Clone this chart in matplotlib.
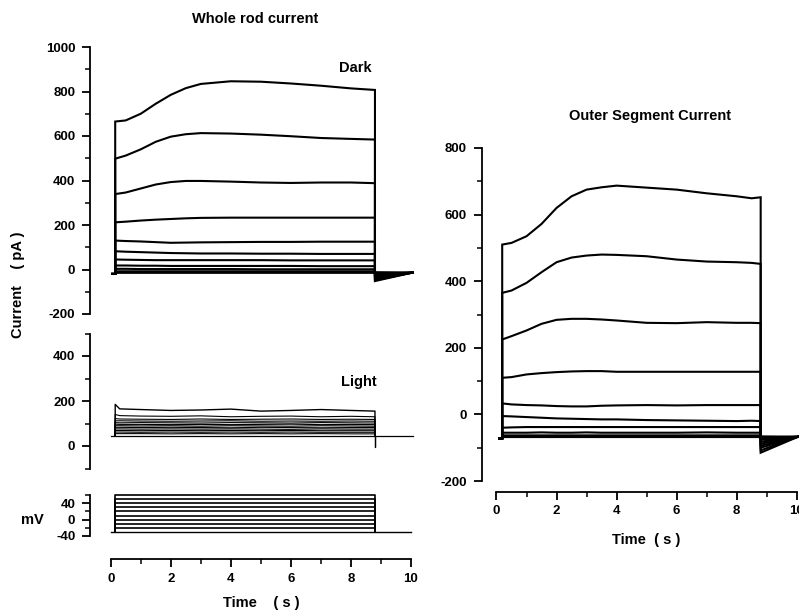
import matplotlib
matplotlib.use("Agg")
import matplotlib.pyplot as plt
from matplotlib.ticker import MultipleLocator

plt.rcParams['font.family'] = ['Liberation Sans', 'DejaVu Sans']
plt.rcParams['font.weight'] = 'bold'
plt.rcParams['axes.unicode_minus'] = False

# stimulus timing (s)
wr_on, wr_off = 0.15, 8.8
os_on, os_off = 0.19, 8.8

# Whole rod current, "Dark" family (pA)
t_wr = [0.15, 0.5, 1, 1.5, 2, 2.5, 3, 4, 5, 6, 7, 8, 8.8]
dark = [
    [665, 670, 700, 745, 785, 815, 834, 846, 844, 836, 826, 814, 807],
    [498, 512, 540, 574, 597, 608, 613, 611, 606, 599, 591, 587, 584],
    [339, 346, 364, 382, 393, 398, 398, 395, 391, 389, 391, 391, 388],
    [212, 215, 220, 224, 227, 230, 232, 233, 233, 233, 233, 233, 233],
    [130, 128, 126, 123, 120, 121, 122, 123, 124, 124, 125, 125, 125],
    [82, 80, 78, 76, 74, 73, 72, 72, 71, 71, 70, 70, 70],
    [45, 44, 43, 42, 42, 42, 42, 42, 42, 41, 41, 41, 41],
    [18, 18, 17, 17, 16, 16, 16, 16, 16, 16, 15, 15, 15],
    [3, 3, 2, 2, 2, 2, 2, 2, 1, 1, 1, 1, 1],
    [-8, -8, -8, -8, -8, -8, -8, -8, -8, -8, -8, -8, -8],
    [-15, -15, -15, -15, -15, -15, -15, -15, -15, -15, -15, -15, -15],
]
dark_hold = -20
dark_tail_start = [-52, -48, -44, -40, -36, -32, -28, -24, -20, -16, -12]
dark_tail_end = -14

# Whole rod current, "Light" family (pA)
t_light = [0.15, 0.3, 1, 2, 3, 4, 5, 6, 7, 8, 8.8]
light = [
    [185, 165, 162, 158, 160, 164, 155, 158, 162, 158, 155],
    [140, 135, 133, 132, 134, 130, 132, 133, 130, 132, 130],
    [122, 120, 119, 118, 120, 118, 119, 120, 118, 119, 118],
    [112, 112, 111, 110, 111, 112, 110, 111, 110, 111, 110],
    [104, 103, 104, 103, 102, 104, 103, 102, 104, 103, 102],
    [97, 96, 96, 95, 96, 95, 96, 97, 95, 96, 95],
    [90, 90, 89, 90, 88, 90, 89, 88, 90, 89, 88],
    [83, 83, 82, 83, 82, 81, 83, 82, 81, 82, 82],
    [76, 76, 75, 76, 75, 76, 75, 74, 76, 75, 75],
    [69, 69, 68, 69, 68, 69, 68, 69, 68, 68, 68],
    [62, 62, 61, 62, 61, 62, 61, 62, 61, 61, 61],
    [55, 55, 55, 54, 55, 54, 55, 54, 55, 54, 54],
]
light_base = 45
light_dip = -5

# voltage steps (mV)
v_levels = [-20, -10, 0, 10, 20, 30, 40, 50, 60]
v_hold = -30
v_on, v_off = 0.13, 8.8

# Outer segment current (pA)
t_os = [0.19, 0.5, 1, 1.5, 2, 2.5, 3, 3.5, 4, 5, 6, 7, 8, 8.5, 8.8]
outer = [
    [510, 515, 535, 572, 620, 655, 675, 682, 687, 681, 675, 664, 655, 649, 652],
    [365, 372, 395, 427, 457, 471, 477, 480, 479, 475, 465, 459, 457, 455, 452],
    [225, 235, 252, 272, 284, 287, 287, 285, 282, 275, 274, 277, 275, 275, 274],
    [110, 112, 120, 124, 127, 129, 130, 130, 128, 128, 128, 128, 128, 128, 128],
    [33, 30, 28, 27, 25, 24, 24, 26, 27, 28, 27, 28, 28, 28, 28],
    [-5, -6, -8, -10, -12, -13, -14, -15, -15, -17, -18, -19, -20, -19, -20],
    [-40, -39, -38, -38, -38, -38, -38, -38, -38, -38, -38, -38, -38, -38, -38],
    [-55, -55, -55, -54, -55, -55, -54, -55, -55, -55, -55, -54, -55, -55, -55],
    [-63, -63, -63, -63, -63, -63, -63, -63, -63, -63, -63, -63, -63, -63, -63],
    [-68, -68, -68, -68, -68, -68, -68, -68, -68, -68, -68, -68, -68, -68, -68],
]
os_hold = -72
os_tail_start = [-115, -108, -100, -94, -88, -82, -76, -72, -69, -66]
os_tail_end = -67
tail_t = 10.05

W, H = 799, 613
fig = plt.figure(figsize=(W / 100, H / 100), dpi=100)


def px_axes(x0, x1, ytop, ybot):
    return fig.add_axes([x0 / W, 1 - ybot / H, (x1 - x0) / W, (ybot - ytop) / H])


def style(ax, left_out, bottom_out=None):
    for s in ['top', 'right']:
        ax.spines[s].set_visible(False)
    ax.spines['left'].set_position(('outward', left_out))
    ax.spines['left'].set_linewidth(1.3)
    if bottom_out is None:
        ax.spines['bottom'].set_visible(False)
        ax.set_xticks([])
    else:
        ax.spines['bottom'].set_position(('outward', bottom_out))
        ax.spines['bottom'].set_linewidth(1.3)
        ax.xaxis.set_major_locator(MultipleLocator(2))
        ax.xaxis.set_minor_locator(MultipleLocator(1))
    ax.tick_params(which='major', direction='out', length=6, width=1.3,
                   labelsize=9.5)
    ax.tick_params(axis='y', which='major', pad=4.5)
    ax.tick_params(axis='x', which='major', pad=4)
    ax.tick_params(which='minor', direction='out', length=3.5, width=1.1)
    ax.patch.set_visible(False)


def trace(ax, t, v, t_on, t_off, hold, tail0, tail1, lw):
    xs = [t_on - 0.1, t_on] + list(t) + [t_off, tail_t]
    ys = [hold, hold] + list(v) + [tail0, tail1]
    ax.plot(xs, ys, color='black', lw=lw, clip_on=False, solid_joinstyle='miter')


# --- whole rod, dark ---
ax1 = px_axes(110.7, 411, 47, 314)
for v, tl in zip(dark, dark_tail_start):
    trace(ax1, t_wr, v, wr_on, wr_off, dark_hold, tl, dark_tail_end, 1.5)
ax1.set_xlim(0, 10)
ax1.set_ylim(-200, 1000)
ax1.yaxis.set_major_locator(MultipleLocator(200))
ax1.yaxis.set_minor_locator(MultipleLocator(100))
style(ax1, 15)
ax1.text(8.15, 905, 'Dark', fontsize=10.5, fontweight='bold', ha='center', va='center')
ax1.set_title('Whole rod current', fontsize=10.5, fontweight='bold', pad=17, x=0.48)

# --- whole rod, light ---
ax2 = px_axes(110.7, 411, 333.5, 468.5)
for i, v in enumerate(light):
    xs = [wr_on] + list(t_light) + [wr_off]
    ys = [light_base] + list(v) + [light_base]
    ax2.plot(xs, ys, color='black', lw=0.8 if i else 1.0, clip_on=False)
ax2.plot([0.0, wr_off, wr_off, wr_off, tail_t],
         [light_base, light_base, light_dip, light_base, light_base],
         color='black', lw=0.9, clip_on=False)
ax2.set_xlim(0, 10)
ax2.set_ylim(-100, 500)
ax2.yaxis.set_major_locator(MultipleLocator(200))
ax2.yaxis.set_minor_locator(MultipleLocator(100))
style(ax2, 15)
ax2.text(8.25, 285, 'Light', fontsize=10.5, fontweight='bold', ha='center', va='center')

# --- voltage steps ---
ax3 = px_axes(110.7, 411, 495, 536)
for lv in v_levels:
    ax3.plot([v_on, v_on, v_off, v_off], [v_hold, lv, lv, v_hold],
             color='black', lw=1.2, clip_on=False)
ax3.plot([0, 10], [v_hold, v_hold], color='black', lw=1.0, clip_on=False)
ax3.set_xlim(0, 10)
ax3.set_ylim(-40, 60)
ax3.set_yticks([-40, 0, 40])
ax3.yaxis.set_minor_locator(MultipleLocator(20))
style(ax3, 15, bottom_out=16.5)
ax3.set_xlabel('Time    ( s )', fontsize=10.5, fontweight='bold', labelpad=8)

fig.text(18 / W, 1 - 285 / H, 'Current    ( pA )', rotation=90,
         fontsize=10.5, fontweight='bold', ha='center', va='center')
fig.text(32 / W, 1 - 520 / H, 'mV', fontsize=10.5, fontweight='bold',
         ha='center', va='center')

# --- outer segment ---
ax4 = px_axes(496.5, 796.7, 148, 481)
for v, tl in zip(outer, os_tail_start):
    trace(ax4, t_os, v, os_on, os_off, os_hold, tl, os_tail_end, 1.5)
ax4.set_xlim(0, 10)
ax4.set_ylim(-200, 800)
ax4.yaxis.set_major_locator(MultipleLocator(200))
ax4.yaxis.set_minor_locator(MultipleLocator(100))
style(ax4, 10.7, bottom_out=7.6)
ax4.set_xlabel('Time  ( s )', fontsize=10.5, fontweight='bold', labelpad=11)
ax4.set_title('Outer Segment Current', fontsize=10.5, fontweight='bold', pad=20, x=0.51)

fig.savefig('out.png', dpi=100)
